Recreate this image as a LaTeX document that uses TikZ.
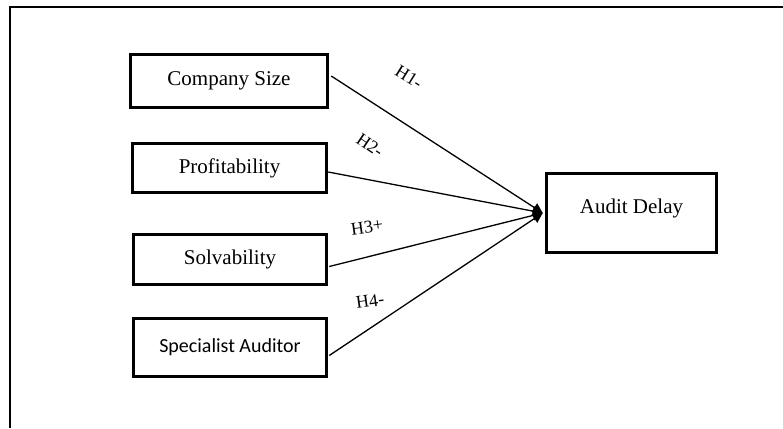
\documentclass[tikz,border=0pt]{standalone}
\usepackage{fontspec}
\setmainfont{Liberation Serif}
\newfontfamily\carlito{Carlito}
\usetikzlibrary{positioning,arrows.meta}
\tikzstyle{VarBox}=[rectangle, draw=black, line width=3.5pt, inner sep=0pt, font=\fontsize{21}{24}\selectfont]
\tikzstyle{HypLabel}=[inner sep=0pt, font=\fontsize{18}{20}\selectfont]

\begin{document}
\begin{tikzpicture}[x=1pt, y=-1pt, line width=1.3pt]
      \useasboundingbox (0,0) rectangle (783,428);
      % frame
      \draw[line width=2.5pt] (10,428) -- (10,7) -- (783,7);
      \node[VarBox, minimum width=197pt, minimum height=53pt] (size) at (229,81) {Company Size};
      \node[VarBox, minimum width=194pt, minimum height=49pt] (profit) at (229.5,168) {Profitability};
      \node[VarBox, minimum width=193pt, minimum height=50pt] (solv) at (230,259.5) {Solvability};
      \node[VarBox, minimum width=193pt, minimum height=58pt, font=\carlito\fontsize{20}{24}\selectfont] (spec) at (230,347.5) {Specialist Auditor};
      \node[VarBox, minimum width=170pt, minimum height=79pt] (delay) at (631.5,213) {\raisebox{14pt}{Audit Delay}};
      \node[HypLabel, rotate=-32] (h1) at (409,77) {H1-};
      \node[HypLabel, rotate=-34] (h2) at (370,145) {H2-};
      \node[HypLabel, rotate=8] (h3) at (367,227) {H3+};
      \node[HypLabel, rotate=8] (h4) at (370,301) {H4-};
      \draw[-{Triangle[length=10pt,width=10pt]}] ([xshift=2pt,yshift=5pt]size.east) -- ([xshift=-2pt]delay.west);
      \draw[-{Triangle[length=10pt,width=10pt]}] ([yshift=-4pt]profit.east) -- ([xshift=-2pt]delay.west);
      \draw[-{Triangle[length=10pt,width=10pt]}] ([xshift=1pt,yshift=-7pt]solv.east) -- ([xshift=-2pt]delay.west);
      \draw[-{Triangle[length=10pt,width=10pt]}] ([xshift=1pt,yshift=-8pt]spec.east) -- ([xshift=-2pt]delay.west);
    \end{tikzpicture}
\end{document}
